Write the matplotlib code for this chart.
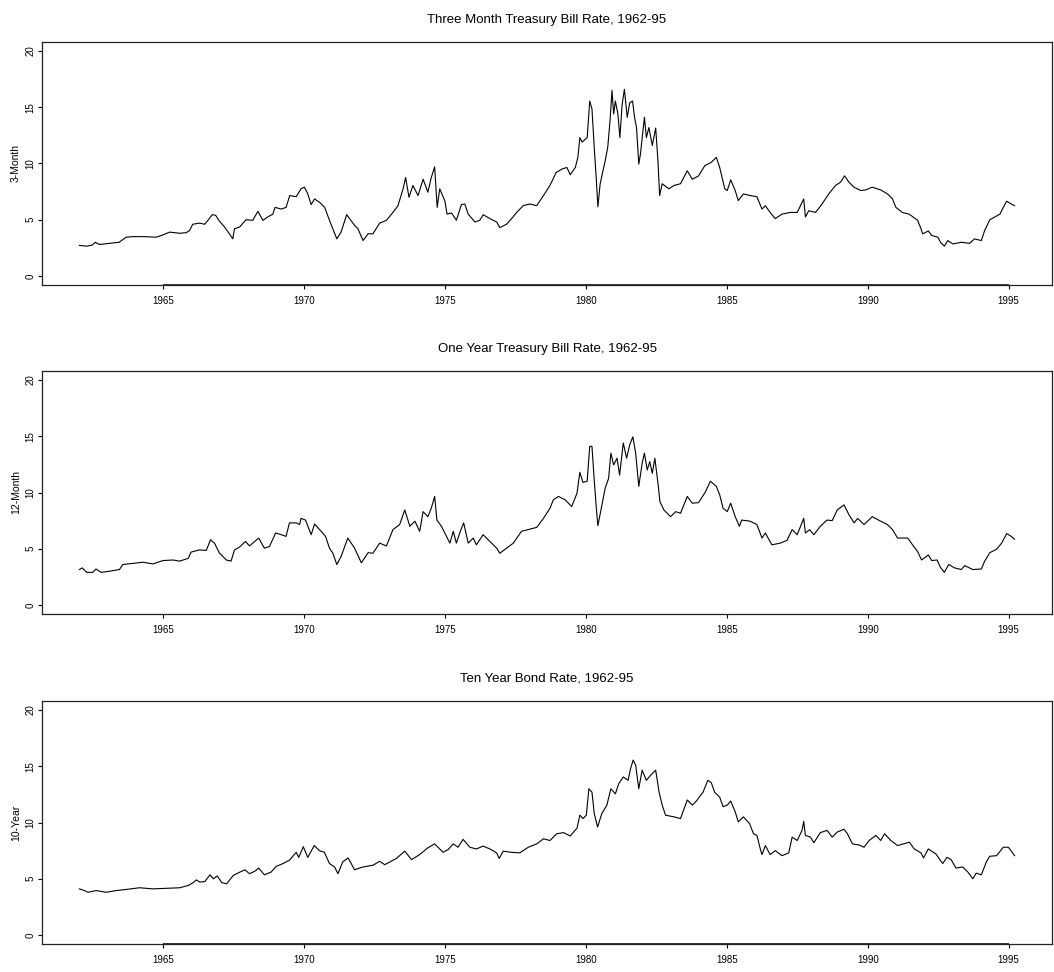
"""
Three panels of US interest rates, 1962-95 (S-PLUS style time series plots).
"""

import matplotlib
matplotlib.use('Agg')
import matplotlib.pyplot as plt
import matplotlib.transforms as mtransforms

plt.rcParams['font.family'] = ['Liberation Sans', 'DejaVu Sans']

# ============================================================
# DATA
# ============================================================
TITLES = ['Three Month Treasury Bill Rate, 1962-95',
          'One Year Treasury Bill Rate, 1962-95',
          'Ten Year Bond Rate, 1962-95']
YLABELS = ['3-Month', '12-Month', '10-Year']
XTICKS = [1965, 1970, 1975, 1980, 1985, 1990, 1995]
YTICKS = [0, 5, 10, 15, 20]

yr_3m = [1962.04, 1962.3, 1962.5, 1962.6, 1962.75, 1963.1, 1963.45, 1963.7, 1963.94, 1964.3,
         1964.76, 1965.0, 1965.24, 1965.6, 1965.83, 1965.95, 1966.06, 1966.3, 1966.48, 1966.6,
         1966.75, 1966.87, 1967.0, 1967.19, 1967.36, 1967.48, 1967.54, 1967.72, 1967.95, 1968.19,
         1968.37, 1968.55, 1968.72, 1968.9, 1968.98, 1969.2, 1969.37, 1969.5, 1969.73, 1969.9,
         1970.02, 1970.14, 1970.26, 1970.38, 1970.56, 1970.74, 1970.91, 1971.03, 1971.17, 1971.32,
         1971.52, 1971.8, 1971.92, 1972.1, 1972.28, 1972.45, 1972.69, 1972.93, 1973.16, 1973.34,
         1973.52, 1973.61, 1973.73, 1973.87, 1974.05, 1974.23, 1974.4, 1974.52, 1974.64, 1974.73,
         1974.82, 1975.0, 1975.08, 1975.24, 1975.41, 1975.59, 1975.71, 1975.83, 1976.07, 1976.24,
         1976.36, 1976.6, 1976.84, 1976.95, 1977.19, 1977.37, 1977.55, 1977.78, 1978.02, 1978.26,
         1978.5, 1978.73, 1978.95, 1979.15, 1979.33, 1979.45, 1979.63, 1979.72, 1979.79, 1979.87,
         1980.05, 1980.14, 1980.22, 1980.3, 1980.37, 1980.43, 1980.51, 1980.69, 1980.78, 1980.87,
         1980.93, 1980.99, 1981.05, 1981.14, 1981.21, 1981.29, 1981.37, 1981.47, 1981.56, 1981.66,
         1981.73, 1981.8, 1981.88, 1981.94, 1982.08, 1982.15, 1982.24, 1982.36, 1982.48, 1982.56,
         1982.62, 1982.71, 1982.95, 1983.13, 1983.36, 1983.6, 1983.78, 1984.0, 1984.22, 1984.45,
         1984.63, 1984.75, 1984.93, 1985.02, 1985.14, 1985.3, 1985.41, 1985.59, 1985.83, 1986.07,
         1986.25, 1986.37, 1986.54, 1986.72, 1986.96, 1987.26, 1987.5, 1987.73, 1987.79, 1987.91,
         1988.15, 1988.38, 1988.62, 1988.86, 1989.04, 1989.18, 1989.33, 1989.51, 1989.75, 1989.93,
         1990.16, 1990.46, 1990.7, 1990.88, 1991.0, 1991.23, 1991.47, 1991.77, 1991.89, 1991.95,
         1992.15, 1992.27, 1992.49, 1992.58, 1992.72, 1992.84, 1993.02, 1993.32, 1993.61, 1993.79,
         1994.03, 1994.15, 1994.33, 1994.51, 1994.69, 1994.81, 1994.93, 1995.09, 1995.21]
rate_3m = [2.72, 2.65, 2.75, 3.0, 2.8, 2.9, 3.0, 3.45, 3.5, 3.5,
           3.45, 3.65, 3.9, 3.8, 3.85, 4.05, 4.6, 4.7, 4.6, 4.95,
           5.45, 5.4, 4.9, 4.35, 3.75, 3.3, 4.2, 4.35, 5.0, 4.95,
           5.75, 4.95, 5.25, 5.5, 6.1, 5.95, 6.1, 7.15, 7.05, 7.75,
           7.9, 7.3, 6.35, 6.85, 6.55, 6.1, 4.95, 4.2, 3.3, 3.9,
           5.45, 4.5, 4.2, 3.15, 3.75, 3.75, 4.7, 4.95, 5.65, 6.25,
           7.75, 8.75, 7.0, 8.05, 7.15, 8.6, 7.45, 8.75, 9.7, 6.1,
           7.75, 6.7, 5.5, 5.6, 4.95, 6.35, 6.4, 5.5, 4.8, 4.95,
           5.45, 5.1, 4.8, 4.3, 4.6, 5.1, 5.65, 6.25, 6.4, 6.25,
           7.15, 8.05, 9.2, 9.5, 9.65, 9.0, 9.65, 10.55, 12.3, 11.9,
           12.3, 15.55, 14.85, 11.45, 8.75, 6.15, 8.2, 10.25, 11.45, 14.1,
           16.5, 14.4, 15.55, 14.4, 12.3, 15.25, 16.6, 14.1, 15.4, 15.55,
           14.1, 13.2, 9.95, 10.85, 14.1, 12.3, 13.2, 11.6, 13.15, 10.25,
           7.15, 8.2, 7.75, 8.05, 8.2, 9.35, 8.6, 8.9, 9.8, 10.1,
           10.55, 9.65, 7.75, 7.6, 8.55, 7.6, 6.7, 7.3, 7.15, 7.05,
           5.95, 6.25, 5.65, 5.1, 5.5, 5.65, 5.65, 6.85, 5.25, 5.8,
           5.65, 6.4, 7.3, 8.05, 8.35, 8.9, 8.35, 7.9, 7.6, 7.65,
           7.9, 7.65, 7.3, 6.85, 6.1, 5.65, 5.5, 4.95, 4.2, 3.75,
           4.0, 3.6, 3.45, 3.0, 2.65, 3.15, 2.85, 3.0, 2.9, 3.3,
           3.15, 4.05, 5.0, 5.25, 5.5, 6.1, 6.65, 6.4, 6.25]

yr_12m = [1962.04, 1962.14, 1962.3, 1962.51, 1962.63, 1962.81, 1963.1, 1963.46, 1963.58, 1963.94,
          1964.3, 1964.65, 1965.0, 1965.36, 1965.6, 1965.9, 1966.0, 1966.3, 1966.54, 1966.69,
          1966.83, 1967.0, 1967.25, 1967.42, 1967.54, 1967.72, 1967.93, 1968.07, 1968.19, 1968.4,
          1968.6, 1968.78, 1969.0, 1969.2, 1969.37, 1969.49, 1969.73, 1969.85, 1969.9, 1970.06,
          1970.26, 1970.38, 1970.56, 1970.77, 1970.91, 1971.03, 1971.17, 1971.32, 1971.56, 1971.8,
          1972.04, 1972.28, 1972.45, 1972.69, 1972.93, 1973.16, 1973.4, 1973.58, 1973.76, 1973.94,
          1974.11, 1974.23, 1974.4, 1974.52, 1974.64, 1974.72, 1974.88, 1975.06, 1975.18, 1975.3,
          1975.41, 1975.55, 1975.67, 1975.83, 1976.01, 1976.12, 1976.36, 1976.6, 1976.84, 1976.95,
          1977.19, 1977.43, 1977.72, 1978.02, 1978.26, 1978.5, 1978.73, 1978.85, 1979.03, 1979.27,
          1979.5, 1979.69, 1979.79, 1979.9, 1980.05, 1980.14, 1980.22, 1980.3, 1980.37, 1980.43,
          1980.54, 1980.69, 1980.81, 1980.89, 1980.99, 1981.11, 1981.2, 1981.33, 1981.45, 1981.56,
          1981.67, 1981.77, 1981.88, 1982.0, 1982.08, 1982.18, 1982.27, 1982.36, 1982.45, 1982.56,
          1982.63, 1982.77, 1983.01, 1983.19, 1983.36, 1983.6, 1983.78, 1984.0, 1984.22, 1984.42,
          1984.63, 1984.75, 1984.87, 1985.02, 1985.14, 1985.3, 1985.45, 1985.53, 1985.83, 1986.07,
          1986.25, 1986.37, 1986.6, 1986.9, 1987.14, 1987.32, 1987.5, 1987.73, 1987.79, 1987.94,
          1988.09, 1988.32, 1988.56, 1988.74, 1988.92, 1989.16, 1989.34, 1989.52, 1989.64, 1989.87,
          1990.16, 1990.46, 1990.7, 1990.88, 1991.06, 1991.42, 1991.59, 1991.77, 1991.91, 1992.15,
          1992.27, 1992.46, 1992.58, 1992.72, 1992.87, 1993.08, 1993.32, 1993.44, 1993.73, 1994.03,
          1994.15, 1994.33, 1994.57, 1994.75, 1994.93, 1995.09, 1995.21]
rate_12m = [3.15, 3.3, 2.9, 2.9, 3.2, 2.9, 3.0, 3.15, 3.6, 3.7,
            3.8, 3.65, 3.95, 4.0, 3.9, 4.15, 4.7, 4.9, 4.85, 5.8,
            5.5, 4.65, 4.0, 3.9, 4.9, 5.15, 5.65, 5.25, 5.5, 5.95,
            5.05, 5.2, 6.4, 6.25, 6.1, 7.3, 7.3, 7.15, 7.7, 7.55,
            6.25, 7.2, 6.7, 6.1, 5.05, 4.6, 3.6, 4.3, 5.95, 5.05,
            3.75, 4.65, 4.6, 5.5, 5.25, 6.7, 7.15, 8.45, 7.0, 7.45,
            6.55, 8.3, 7.85, 8.6, 9.65, 7.55, 7.0, 6.1, 5.5, 6.55,
            5.5, 6.55, 7.3, 5.5, 5.95, 5.35, 6.25, 5.65, 5.05, 4.6,
            5.05, 5.5, 6.55, 6.75, 6.9, 7.7, 8.6, 9.35, 9.65, 9.35,
            8.75, 9.95, 11.8, 10.9, 11.0, 14.1, 14.1, 11.1, 8.75, 7.05,
            8.45, 10.4, 11.25, 13.5, 12.45, 13.05, 11.55, 14.4, 13.05, 14.25,
            14.95, 13.5, 10.55, 12.6, 13.5, 12.0, 12.75, 11.7, 13.05, 10.85,
            9.2, 8.45, 7.85, 8.3, 8.15, 9.65, 9.05, 9.1, 9.95, 11.0,
            10.55, 9.8, 8.6, 8.3, 9.05, 7.85, 7.0, 7.55, 7.45, 7.15,
            5.95, 6.4, 5.35, 5.5, 5.75, 6.7, 6.25, 7.7, 6.4, 6.7,
            6.25, 7.0, 7.55, 7.5, 8.45, 8.9, 8.0, 7.3, 7.7, 7.15,
            7.85, 7.45, 7.15, 6.7, 5.95, 5.95, 5.35, 4.75, 4.0, 4.45,
            3.95, 4.0, 3.35, 2.9, 3.6, 3.3, 3.15, 3.5, 3.15, 3.2,
            3.9, 4.65, 4.95, 5.5, 6.35, 6.1, 5.85]

yr_10y = [1962.04, 1962.22, 1962.34, 1962.63, 1962.99, 1963.35, 1963.7, 1964.17, 1964.65, 1965.12,
          1965.6, 1965.9, 1966.07, 1966.19, 1966.31, 1966.49, 1966.67, 1966.79, 1966.93, 1967.09,
          1967.26, 1967.5, 1967.74, 1967.91, 1968.07, 1968.25, 1968.4, 1968.6, 1968.84, 1969.02,
          1969.26, 1969.49, 1969.73, 1969.82, 1969.98, 1970.14, 1970.37, 1970.55, 1970.73, 1970.91,
          1971.09, 1971.21, 1971.38, 1971.57, 1971.8, 1972.1, 1972.45, 1972.69, 1972.87, 1973.28,
          1973.58, 1973.82, 1974.11, 1974.4, 1974.64, 1974.94, 1975.12, 1975.3, 1975.47, 1975.65,
          1975.89, 1976.12, 1976.36, 1976.6, 1976.84, 1976.93, 1977.07, 1977.37, 1977.66, 1977.96,
          1978.26, 1978.5, 1978.73, 1978.97, 1979.21, 1979.45, 1979.69, 1979.79, 1979.9, 1980.02,
          1980.11, 1980.22, 1980.3, 1980.42, 1980.57, 1980.75, 1980.89, 1981.05, 1981.17, 1981.33,
          1981.5, 1981.59, 1981.68, 1981.77, 1981.88, 1982.0, 1982.15, 1982.3, 1982.48, 1982.6,
          1982.71, 1982.83, 1983.13, 1983.36, 1983.6, 1983.78, 1983.92, 1984.16, 1984.33, 1984.45,
          1984.57, 1984.75, 1984.87, 1985.02, 1985.14, 1985.3, 1985.41, 1985.59, 1985.81, 1985.95,
          1986.07, 1986.19, 1986.25, 1986.37, 1986.54, 1986.72, 1986.96, 1987.2, 1987.32, 1987.5,
          1987.67, 1987.73, 1987.79, 1987.97, 1988.09, 1988.32, 1988.56, 1988.74, 1988.92, 1989.16,
          1989.28, 1989.46, 1989.7, 1989.87, 1990.05, 1990.29, 1990.46, 1990.6, 1990.82, 1991.06,
          1991.48, 1991.65, 1991.89, 1991.98, 1992.15, 1992.42, 1992.66, 1992.81, 1992.96, 1993.13,
          1993.37, 1993.55, 1993.73, 1993.85, 1994.03, 1994.21, 1994.33, 1994.57, 1994.81, 1994.99,
          1995.21]
rate_10y = [4.1, 3.95, 3.8, 3.95, 3.8, 3.95, 4.05, 4.2, 4.1, 4.15,
            4.2, 4.4, 4.65, 4.9, 4.7, 4.75, 5.35, 5.0, 5.25, 4.65,
            4.55, 5.3, 5.6, 5.8, 5.45, 5.65, 5.95, 5.35, 5.6, 6.1,
            6.35, 6.65, 7.35, 6.9, 7.85, 6.9, 7.95, 7.5, 7.35, 6.35,
            6.05, 5.45, 6.5, 6.85, 5.8, 6.05, 6.2, 6.55, 6.25, 6.8,
            7.45, 6.7, 7.15, 7.75, 8.1, 7.35, 7.6, 8.1, 7.8, 8.5,
            7.8, 7.65, 7.9, 7.65, 7.3, 6.8, 7.45, 7.35, 7.3, 7.8,
            8.1, 8.55, 8.4, 9.0, 9.1, 8.8, 9.5, 10.65, 10.35, 10.65,
            13.0, 12.7, 10.8, 9.6, 10.8, 11.55, 13.0, 12.55, 13.45, 14.05,
            13.75, 14.8, 15.55, 15.1, 13.0, 14.65, 13.75, 14.2, 14.65, 12.7,
            11.55, 10.65, 10.5, 10.35, 12.0, 11.55, 11.9, 12.7, 13.75, 13.55,
            12.7, 12.25, 11.4, 11.55, 11.9, 10.95, 10.05, 10.5, 9.9, 9.0,
            8.85, 7.65, 7.15, 7.95, 7.15, 7.5, 7.05, 7.3, 8.7, 8.4,
            9.3, 10.1, 8.85, 8.7, 8.2, 9.1, 9.3, 8.7, 9.15, 9.4,
            9.0, 8.1, 8.0, 7.8, 8.4, 8.85, 8.4, 9.0, 8.4, 7.95,
            8.25, 7.65, 7.3, 6.85, 7.65, 7.2, 6.35, 6.9, 6.7, 5.95,
            6.05, 5.6, 5.0, 5.5, 5.35, 6.5, 7.0, 7.05, 7.8, 7.8,
            7.05]

SERIES = [(yr_3m, rate_3m), (yr_12m, rate_12m), (yr_10y, rate_10y)]

# ============================================================
# LAYOUT
# ============================================================
W, H = 1054, 972
# panel boxes in pixels: (left, top, right, bottom)
BOXES = [(42, 42, 1052, 285), (42, 371, 1052, 614), (42, 701, 1052, 944)]
THICK_AXIS = [True, False, True]


def main():
    fig = plt.figure(figsize=(W / 100, H / 100), dpi=100)

    for i, (years, rates) in enumerate(SERIES):
        l, t, r, b = BOXES[i]
        ax = fig.add_axes([l / W, 1 - b / H, (r - l) / W, (b - t) / H])
        ax.plot(years, rates, color='black', linewidth=0.8)

        # R-style 4% padding around data range
        x0, x1 = min(years), max(years)
        pad = 0.04 * (x1 - x0)
        ax.set_xlim(x0 - pad, x1 + pad)
        ax.set_ylim(-0.8, 20.8)

        ax.set_xticks(XTICKS)
        ax.set_xticklabels([str(v) for v in XTICKS])
        ax.set_yticks(YTICKS)
        ax.set_yticklabels([str(v) for v in YTICKS], rotation=90, va='center')
        ax.tick_params(axis='both', length=3, width=0.8, labelsize=7,
                       color='black')
        ax.tick_params(axis='x', pad=5)
        ax.tick_params(axis='y', pad=1.8)
        ax.set_ylabel(YLABELS[i], fontsize=7.5, labelpad=3.3)
        ax.set_title(TITLES[i], fontsize=9.5, pad=14)

        for sp in ax.spines.values():
            sp.set_linewidth(0.9)
            sp.set_color('#222222')

        if THICK_AXIS[i]:
            trans = mtransforms.blended_transform_factory(ax.transData, ax.transAxes)
            ax.plot([XTICKS[0], XTICKS[-1]], [0, 0], color='#333333', linewidth=1.4,
                    transform=trans, clip_on=False, solid_capstyle='butt')

    fig.savefig('out.png', dpi=100)
    plt.close(fig)


if __name__ == '__main__':
    main()
